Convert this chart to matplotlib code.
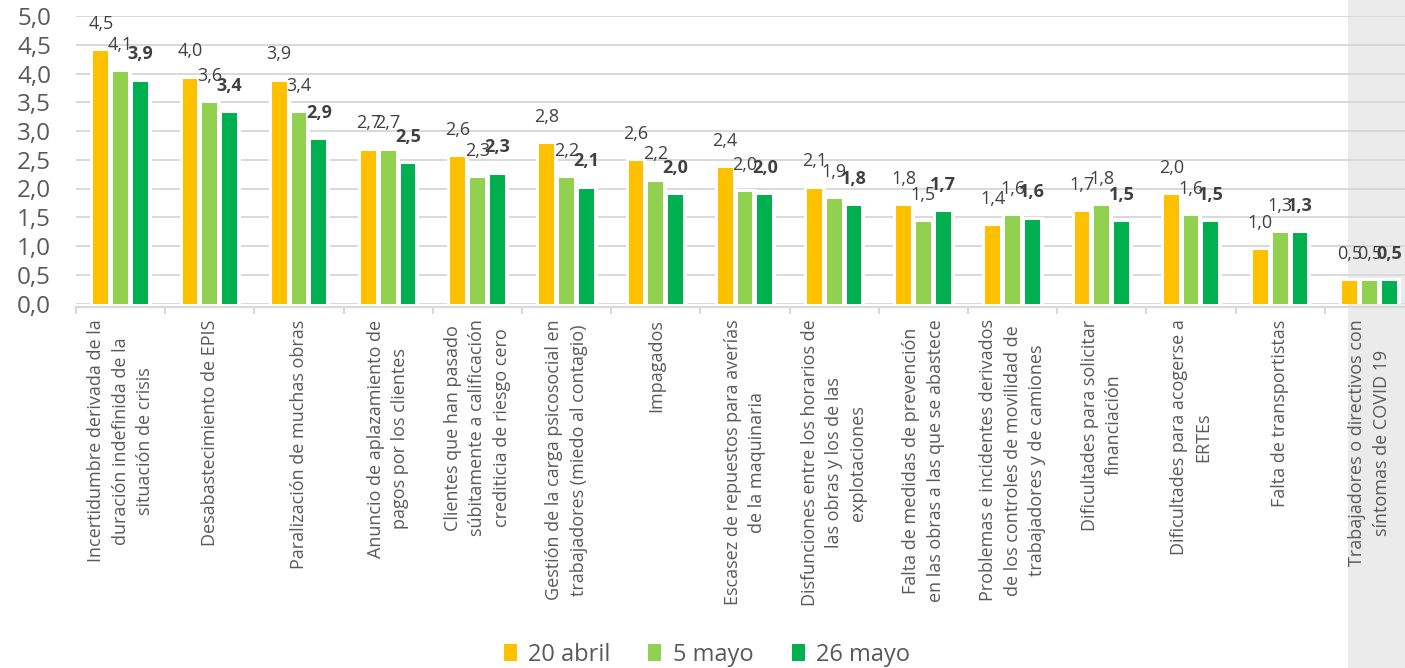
import matplotlib
matplotlib.use("Agg")
import matplotlib.pyplot as plt
from matplotlib.patches import Patch, Rectangle
import numpy as np

plt.rcParams['font.family'] = ['Open Sans', 'DejaVu Sans']

categories = [
    "Incertidumbre derivada de la\nduración indefinida de la\nsituación de crisis",
    "Desabastecimiento de EPIS",
    "Paralización de muchas obras",
    "Anuncio de aplazamiento de\npagos por los clientes",
    "Clientes que han pasado\nsúbitamente a calificación\ncrediticia de riesgo cero",
    "Gestión de la carga psicosocial en\ntrabajadores (miedo al contagio)",
    "Impagados",
    "Escasez de repuestos para averías\nde la maquinaria",
    "Disfunciones entre los horarios de\nlas obras y los de las\nexplotaciones",
    "Falta de medidas de prevención\nen las obras a las que se abastece",
    "Problemas e incidentes derivados\nde los controles de movilidad de\ntrabajadores y de camiones",
    "Dificultades para solicitar\nfinanciación",
    "Dificultades para acogerse a\nERTEs",
    "Falta de transportistas",
    "Trabajadores o directivos con\nsíntomas de COVID 19",
]

series_names = ["20 abril", "5 mayo", "26 mayo"]

# bar heights as drawn
abril_20 = [4.39, 3.91, 3.86, 2.66, 2.54, 2.77, 2.48, 2.36, 2.00, 1.70, 1.35, 1.59, 1.88, 0.93, 0.39]
mayo_5 = [4.03, 3.49, 3.31, 2.66, 2.18, 2.18, 2.12, 1.94, 1.82, 1.41, 1.52, 1.70, 1.52, 1.22, 0.39]
mayo_26 = [3.86, 3.31, 2.84, 2.43, 2.24, 2.00, 1.88, 1.88, 1.70, 1.59, 1.46, 1.41, 1.41, 1.22, 0.39]

# data labels as printed on the chart
labels_abril_20 = ["4,5", "4,0", "3,9", "2,7", "2,6", "2,8", "2,6", "2,4", "2,1", "1,8", "1,4", "1,7", "2,0", "1,0", "0,5"]
labels_mayo_5 = ["4,1", "3,6", "3,4", "2,7", "2,3", "2,2", "2,2", "2,0", "1,9", "1,5", "1,6", "1,8", "1,6", "1,3", "0,5"]
labels_mayo_26 = ["3,9", "3,4", "2,9", "2,5", "2,3", "2,1", "2,0", "2,0", "1,8", "1,7", "1,6", "1,5", "1,5", "1,3", "0,5"]

yticks = [0, 0.5, 1, 1.5, 2, 2.5, 3, 3.5, 4, 4.5, 5]

colors = ["#FFC000", "#92D050", "#00B050"]
grid_c = "#d9d9d9"
text_c = "#595959"
label_c = "#404040"

W, H = 1405, 668
fig = plt.figure(figsize=(W / 100, H / 100), dpi=100)
fig.patch.set_facecolor("white")
fig.patches.append(Rectangle((1348 / W, 0), 1 - 1348 / W, 1, transform=fig.transFigure,
                             facecolor="#ebebeb", edgecolor="none", zorder=0))

ax = fig.add_axes([76 / W, (H - 303.5) / H, 1338 / W, (303.5 - 16) / H])
ax.set_facecolor("none")
ax.set_zorder(2)

x = np.arange(len(categories))
width = 0.168
offsets = [-0.222, 0.0, 0.222]
all_vals = [abril_20, mayo_5, mayo_26]
all_labels = [labels_abril_20, labels_mayo_5, labels_mayo_26]

for i, (vals, labs) in enumerate(zip(all_vals, all_labels)):
    xs = x + offsets[i]
    # white halo behind each bar
    ax.bar(xs, vals, width, color="white", edgecolor="white", linewidth=5, zorder=1.5)
    ax.bar(xs, vals, width, color=colors[i], edgecolor="none", zorder=2, label=series_names[i])
    for xi, v, t in zip(xs, vals, labs):
        ax.annotate(t, xy=(xi, v), xytext=(0, 16), textcoords="offset points",
                    ha="center", va="baseline", fontsize=13, color=label_c,
                    fontweight="bold" if i == 2 else "normal", zorder=3,
                    annotation_clip=False)

ax.set_xlim(-0.5, len(categories) - 0.5)
ax.set_ylim(0, 5)
ax.set_yticks(yticks)
ax.set_yticklabels([f"{v:.1f}".replace(".", ",") for v in yticks])
ax.yaxis.grid(True, color=grid_c, linewidth=1.4)
ax.set_axisbelow(True)

for s in ["left", "right", "top"]:
    ax.spines[s].set_visible(False)
ax.spines["bottom"].set_position(("outward", 2.5))
ax.spines["bottom"].set_color(grid_c)
ax.spines["bottom"].set_linewidth(1.6)

ax.tick_params(axis="y", length=0, pad=18, labelsize=17.5, labelcolor=text_c)
ax.set_xticks(x)
ax.set_xticklabels(categories, rotation=90, ha="center", va="top",
                   multialignment="center", linespacing=1.45)
ax.set_xticks(np.arange(len(categories) + 1) - 0.5, minor=True)
ax.tick_params(axis="x", which="major", length=0, pad=9, labelsize=13, labelcolor=text_c)
ax.tick_params(axis="x", which="minor", length=5, width=1.5, color=grid_c)

handles = [Patch(facecolor=c, edgecolor="none") for c in colors]
fig.legend(handles, series_names, loc="center", bbox_to_anchor=(707 / W, 1 - 655 / H),
           ncol=3, frameon=False, fontsize=17, labelcolor=text_c,
           handlelength=0.55, handleheight=0.75, handletextpad=0.5, columnspacing=1.6)

fig.savefig("out.png", dpi=100)
